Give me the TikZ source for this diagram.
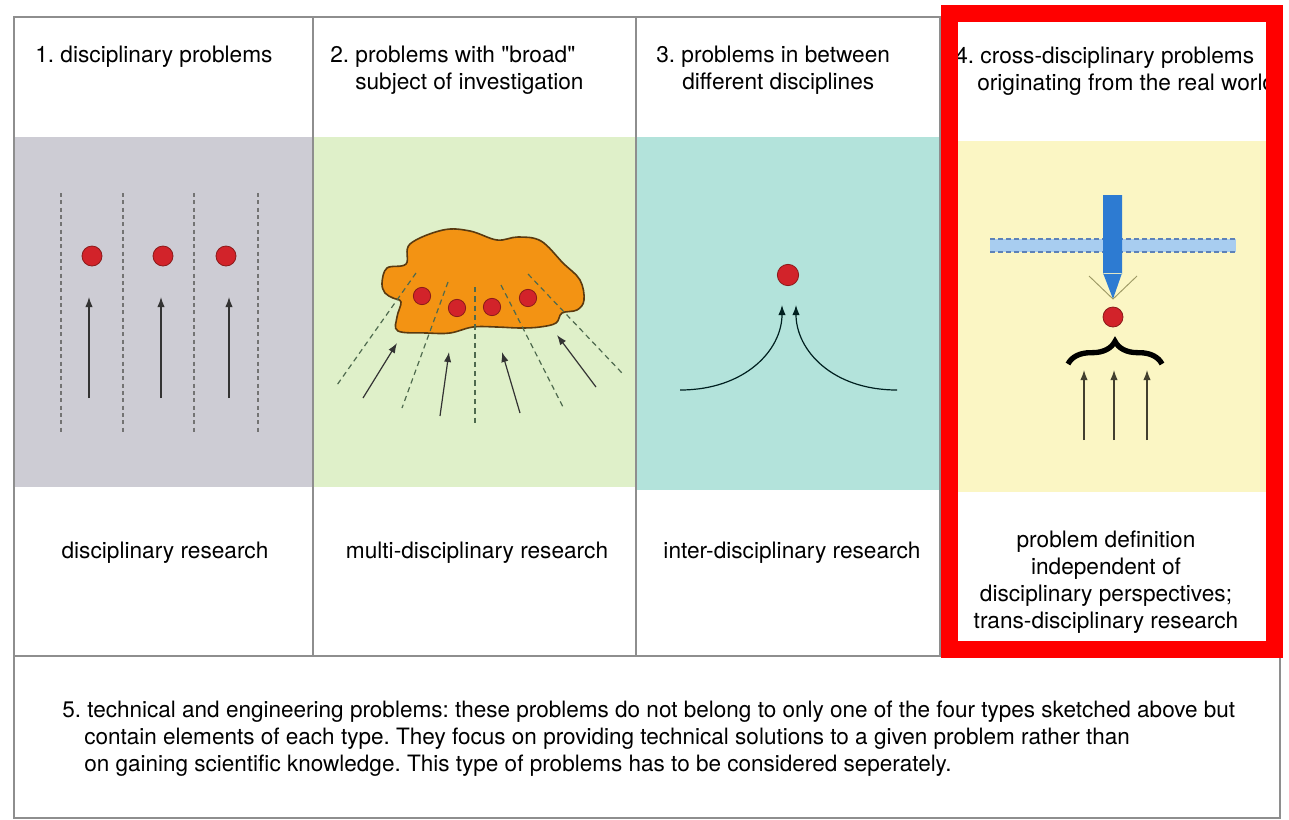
\documentclass[tikz,border=0pt]{standalone}
\usepackage{fontspec}
\setmainfont{TeX Gyre Heros}[Ligatures=TeXOff]
\usepackage{tikz}
\usetikzlibrary{arrows.meta,decorations.pathreplacing}
\definecolor{panelgray}{HTML}{CDCCD4}
\definecolor{panelgreen}{HTML}{DFF0C9}
\definecolor{panelteal}{HTML}{B3E3DB}
\definecolor{panelyellow}{HTML}{FBF6C4}
\definecolor{framegray}{HTML}{8E8E8E}
\definecolor{dotred}{HTML}{D2232A}
\definecolor{dotedge}{HTML}{8B1A1A}
\definecolor{blobfill}{HTML}{F39313}
\definecolor{blobedge}{HTML}{5A3A10}
\definecolor{raygreen}{HTML}{4E6A4E}
\definecolor{bandblue}{HTML}{A8CDF0}
\definecolor{bandedge}{HTML}{5D82B8}
\definecolor{shaftblue}{HTML}{2D7BD2}
\definecolor{markred}{HTML}{FF0000}
\frenchspacing

\begin{document}
\begin{tikzpicture}[x=0.75pt, y=-0.75pt,
    frame/.style = {draw=framegray, line width=1.1pt},
    dot/.style = {draw=dotedge, fill=dotred, circle, inner sep=0pt, minimum size=15pt, line width=0.6pt},
    guide/.style = {draw=black!55, line width=1.1pt, dash pattern=on 3pt off 2.5pt},
    rayline/.style = {draw=raygreen, line width=0.9pt, dash pattern=on 4pt off 3pt},
    flow/.style = {draw=black!80, line width=0.9pt, -{Latex[length=7.5pt,width=5.5pt]}},
    head/.style = {anchor=base west, align=left, inner sep=0pt, font=\fontsize{17}{20.25}\selectfont},
    label/.style = {align=center, inner sep=0pt, font=\fontsize{17}{20.25}\selectfont}]
  \useasboundingbox (0,0) rectangle (1289,819);
  \fill[white] (0,0) rectangle (1289,819);

  \fill[panelgray] (14,137) rectangle (313,487);
  \fill[panelgreen] (313,137) rectangle (636,487);
  \fill[panelteal] (636,137) rectangle (940,490);
  \fill[panelyellow] (940,141) rectangle (1280,492);

  \draw[frame] (14,17) rectangle (1280,818);
  \draw[frame] (14,656) -- (1280,656);
  \draw[frame] (313,17) -- (313,656);
  \draw[frame] (636,17) -- (636,656);
  \draw[frame] (940,17) -- (940,656);

  \node[head] (h1) at (35,62) {1. disciplinary problems};
  \node[head] (h2) at (330,89) {2. problems with "broad"\\\hspace*{18.75pt}subject of investigation};
  \node[head] (h3) at (656,89) {3. problems in between\\\hspace*{19.5pt}different disciplines};
  \node[head] (h4) at (955,90) {4. cross-disciplinary problems\\\hspace*{16.5pt}originating from the real world};

  \draw[guide] (61,193) -- (61,433);
  \draw[guide] (123,193) -- (123,433);
  \draw[guide] (194,193) -- (194,433);
  \draw[guide] (258,193) -- (258,433);
  \node[dot] (p1) at (92,256) {};
  \node[dot] (p2) at (163,256) {};
  \node[dot] (p3) at (226,256) {};
  \coordinate (s1) at (89,398);
  \coordinate (s2) at (161,398);
  \coordinate (s3) at (229,398);
  \draw[flow] (s1) -- (89,297);
  \draw[flow] (s2) -- (161,297);
  \draw[flow] (s3) -- (229,297);

  \draw[blobedge, fill=blobfill, line width=1.2pt] plot[smooth cycle, tension=0.6] coordinates {
    (382,283) (387,268) (406,264) (410,244) (443,230) (470,231) (497,240) (518,237)
    (541,241) (563,263) (580,280) (584,300) (577,310) (562,313) (556,323) (540,327)
    (520,328) (497,327) (473,327) (450,333) (427,333) (398,331) (397,317) (401,302)
    (393,298) (385,293)};
  \draw[rayline] (416,273) -- (337,385);
  \draw[rayline] (448,282) -- (402,408);
  \draw[rayline] (475,287) -- (475,425);
  \draw[rayline] (501,285) -- (563,407);
  \draw[rayline] (528,274) -- (622,373);
  \node[dot, minimum size=13pt] (m1) at (422,296) {};
  \node[dot, minimum size=13pt] (m2) at (457,308) {};
  \node[dot, minimum size=13pt] (m3) at (492,307) {};
  \node[dot, minimum size=13pt] (m4) at (528,298) {};
  \draw[flow] (363,398) -- (397,343);
  \draw[flow] (440,416) -- (449,352);
  \draw[flow] (520,413) -- (502,352);
  \draw[flow] (596,387) -- (557,335);

  \node[dot, minimum size=16pt] (q) at (788,275) {};
  \draw[flow, draw=black!75!teal] (680,390) .. controls (745,390) and (782,350) .. (782,305);
  \draw[flow, draw=black!75!teal] (897,390) .. controls (832,390) and (796,350) .. (796,305);

  \fill[bandblue] (990,239) rectangle (1236,252);
  \draw[bandedge, line width=0.8pt, dash pattern=on 4pt off 2pt] (990,239) -- (1236,239);
  \draw[bandedge, line width=0.8pt, dash pattern=on 4pt off 2pt] (990,252) -- (1236,252);
  \fill[shaftblue] (1103,195) rectangle (1122,274) (1103,273) -- (1122,273) -- (1113,299) -- cycle;
  \draw[black!40!yellow!60!gray, line width=0.7pt] (1089,276) -- (1113,299) -- (1137,276);
  \node[dot, minimum size=15pt] (t) at (1113,317) {};
  \draw[decorate, decoration={brace, amplitude=17pt}, line width=4pt] (1068,364) -- (1162,364);
  \draw[flow, draw=black!70!olive] (1084,440) -- (1084,370);
  \draw[flow, draw=black!70!olive] (1114,440) -- (1114,370);
  \draw[flow, draw=black!70!olive] (1147,440) -- (1147,370);

  \node[label] (r1) at (165,553) {disciplinary research};
  \node[label] (r2) at (477,553) {multi-disciplinary research};
  \node[label] (r3) at (792,553) {inter-disciplinary research};
  \node[label] (r4) at (1106,582) {problem definition\\independent of\\disciplinary perspectives;\\trans-disciplinary research};

  \node[head, font=\fontsize{16.9}{20.25}\selectfont] (n5) at (62,771) {5. technical and engineering problems: these problems do not belong to only one of the four types sketched above but\\
    \hspace*{16.5pt}contain elements of each type. They focus on providing technical solutions to a given problem rather than\\
    \hspace*{16.5pt}on gaining scientific knowledge. This type of problems has to be considered seperately.};

  \draw[markred, line width=12.75pt] (949,13.5) rectangle (1274,649);
\end{tikzpicture}
\end{document}
